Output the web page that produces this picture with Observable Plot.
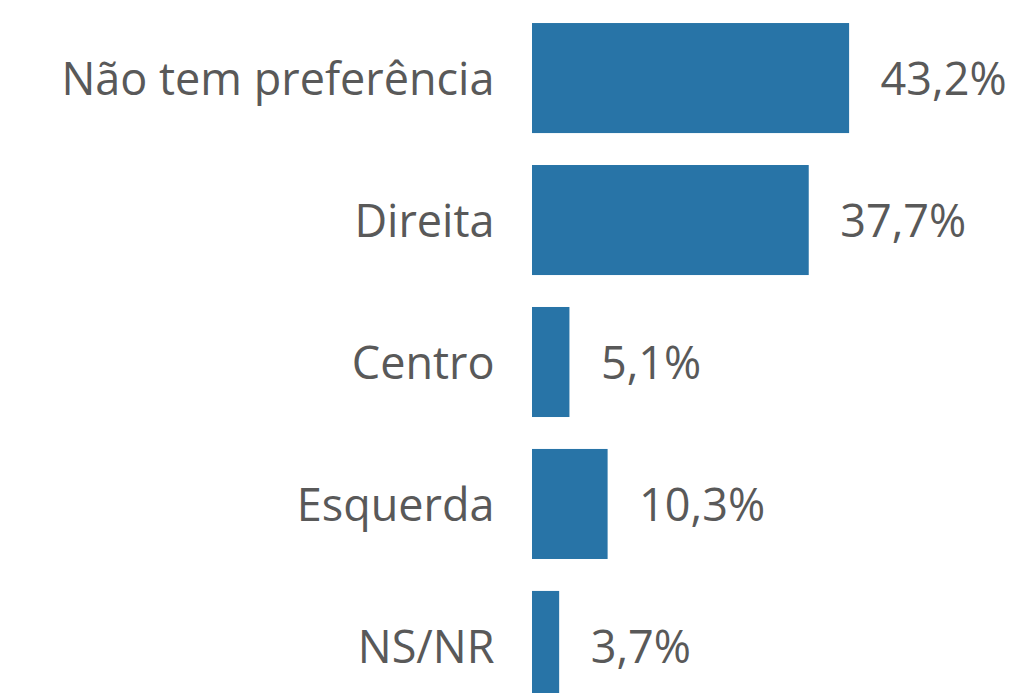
<!DOCTYPE html>
<html>
<head>
<meta charset="utf-8">
<script src="https://cdn.jsdelivr.net/npm/d3@7"></script>
<script src="https://cdn.jsdelivr.net/npm/@observablehq/plot@0.6"></script>
<style>
  html, body { margin: 0; padding: 0; background: #fff; overflow: hidden; }
  #chart svg { display: block; }
</style>
</head>
<body>
<div id="chart"></div>
<script>
const categories = ["Não tem preferência", "Direita", "Centro", "Esquerda", "NS/NR"];
const values = [43.2, 37.7, 5.1, 10.3, 3.7];

const data = categories.map((c, i) => ({category: c, value: values[i]}));
const fmt = v => v.toFixed(1).replace(".", ",") + "%";

const chart = Plot.plot({
  width: 1015,
  height: 693,
  marginLeft: 532,
  marginRight: 0,
  marginTop: 0,
  marginBottom: 0,
  style: {fontFamily: "'Open Sans', sans-serif", color: "#595959", background: "#fff"},
  x: {domain: [0, 65.8], axis: null},
  y: {domain: categories, range: [6, 718], paddingInner: 0.225, paddingOuter: 0.12, round: false, label: null},
  marks: [
    Plot.barX(data, {x: "value", y: "category", fill: "#2874a7"}),
    Plot.text(data, {x: "value", y: "category", text: d => fmt(d.value), textAnchor: "start", dx: 31, dy: 2, fontSize: 45, fill: "#595959"}),
    Plot.axisY({tickSize: 0, tickPadding: 38, dy: 2, fontSize: 45, fill: "#595959", label: null})
  ]
});
document.getElementById("chart").appendChild(chart);
</script>
</body>
</html>
